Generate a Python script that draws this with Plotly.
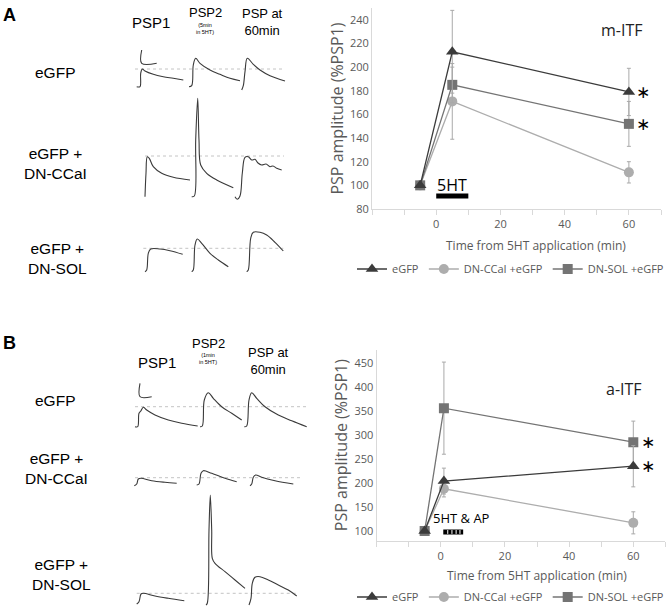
import plotly.graph_objects as go

W, H = 667, 606

# ---------------- chart data ----------------
TIME_A = [-5, 5, 60]
TIME_B = [-5, 1, 60]
SERIES = ["eGFP", "DN-CCaI +eGFP", "DN-SOL +eGFP"]

A_EGFP = [100, 213, 179]
A_EGFP_ERR = [0, 35, 20]
A_CCAI = [100, 171, 111]
A_CCAI_ERR = [0, 32, 9]
A_SOL = [100, 185, 152]
A_SOL_ERR = [0, 15, 19]

B_EGFP = [100, 204, 235]
B_EGFP_ERR = [0, 27, 43]
B_CCAI = [100, 188, 117]
B_CCAI_ERR = [0, 17, 23]
B_SOL = [100, 356, 285]
B_SOL_ERR = [0, 96, 44]

X_TICKS = [0, 20, 40, 60]

TA1_X = [136.7, 140, 140.7, 142.3, 145, 153.3, 163.3, 173.3, 183.3, None,
         189, 191.7, 193.3, 195.7, 200, 210, 220, 230, 240, None,
         241.7, 243.3, 245, 247.3, 253.3, 260, 270, 285]
TA1_Y = [86.7, 86.7, 73.3, 69, 71, 74.3, 76.7, 78.3, 80, None,
         86.7, 85.7, 65, 58.3, 63.3, 70, 74.3, 78.3, 80.7, None,
         90, 85.7, 71.7, 58.3, 64.3, 70, 75.7, 81]
TA2_X = [145, 146, 147.3, 149.3, 153.3, 161.7, 173.3, 190, None,
         191.7, 194.3, 195.7, 197.7, 199, 200.7, 206.7, 216.7, 233.3, None,
         235, 237.3, 240, 242.3, 245, 248.3, 251.7, 255, 258, 261.7, 266, 270, 273, 276.7, 281.7]
TA2_Y = [196.7, 173.3, 156.7, 158.3, 166.7, 173.3, 177.3, 180, None,
         196.7, 196, 140, 98.3, 140, 165, 173.3, 180, 187.7, None,
         196.7, 199.3, 196, 173.3, 157.3, 156.7, 160, 159.3, 163, 165, 164, 166.7, 166, 168.3, 170]
TA3_X = [145, 146.7, 148.3, 150.7, 160, 170, 182.7, None,
         191.7, 193.3, 195, 197.3, 201.7, 210, 218.3, 228.3, None,
         246.7, 248.3, 250.7, 253.3, 260, 266.7, 275, 283.3]
TA3_Y = [271.7, 270, 253.3, 249, 249, 250.7, 254.3, None,
         271.7, 270, 245, 239, 243.3, 253.3, 260, 266.7, None,
         271.7, 270, 238.3, 232.3, 232.3, 235, 242.3, 251]

TB1_X = [135, 137.7, 139, 141, 143.3, 146.7, 155, 168.3, 181.7, 197.7, None,
         200, 202.3, 204.3, 208.3, 213.3, 221.7, 231.7, 241.7, None,
         244.3, 246.7, 249, 251.7, 256.7, 265, 278.3, 291.7, 306.7]
TB1_Y = [426.7, 426.7, 413.3, 410.7, 407.3, 410, 415, 420, 423.3, 426, None,
         426.7, 426, 400, 392.7, 398.3, 406.7, 413.3, 420, None,
         426.7, 426, 400, 392.7, 398.3, 406.7, 415, 420.7, 426.7]
TB2_X = [134.3, 136.7, 138.3, 141, 151.7, 165, 176.7, None,
         196.7, 199, 201, 203.3, 211.7, 225, 236.7, None,
         250, 251.7, 253.3, 255.7, 261.7, 275, 293.3]
TB2_Y = [485.7, 484, 479, 478.3, 480.7, 482.3, 483.3, None,
         485, 484, 473.3, 470.7, 473.3, 478.3, 481.7, None,
         485.7, 484, 477.3, 475, 477.3, 480.7, 484]
TB3_X = [136.7, 139, 141, 143.3, 155, 168.3, 184.3, None,
         206, 207.3, 209, 210.3, 211.7, 212.3, 215, 225, 235, 245, None,
         249, 251, 252.3, 255, 260, 268.3, 278.3, 288.3, 296.7]
TB3_Y = [604, 601.7, 594, 593.3, 596, 598.3, 600.7, None,
         605, 603.3, 530, 495, 530, 558.3, 563.3, 571.7, 580, 588.3, None,
         605, 598.3, 583.3, 577.3, 576.7, 580, 585, 590, 596]

SCALE_A_X = [141.7, 141.7, 156.7]
SCALE_A_Y = [50, 63.3, 63.3]
SCALE_B_X = [140, 140, 151.7]
SCALE_B_Y = [383.3, 396.7, 396.7]

BASE_X = [[135, 285], [145, 284], [143.3, 283.3], [135, 306.7], [135, 303], [136.7, 298.3]]
BASE_Y = [69, 156, 248.3, 406.7, 477.7, 593.3]

# ---------------- figure ----------------
fig = go.Figure()

GRAY_TXT = "#595959"
C_EGFP, C_CCAI, C_SOL = "#3b3b3b", "#adadad", "#747474"
ERR_C = "#a9a9a9"
CHART_FONT = "Open Sans"
LEFT_FONT = "Liberation Sans"


def add_series(x, y, err, name, color, symbol, size, xa, ya, legend, rank):
    fig.add_trace(go.Scatter(
        x=x, y=y, name=name, mode="lines+markers",
        line=dict(color=color, width=1.3),
        marker=dict(symbol=symbol, color=color, size=size),
        error_y=dict(type="data", array=err, color=ERR_C, thickness=1, width=2),
        xaxis=xa, yaxis=ya, legend=legend, legendrank=rank, showlegend=True))


for (x, ys, xa, ya, lg) in [
    (TIME_A, [(A_CCAI, A_CCAI_ERR), (A_SOL, A_SOL_ERR), (A_EGFP, A_EGFP_ERR)], "x", "y", "legend"),
    (TIME_B, [(B_CCAI, B_CCAI_ERR), (B_SOL, B_SOL_ERR), (B_EGFP, B_EGFP_ERR)], "x2", "y2", "legend2"),
]:
    add_series(x, ys[0][0], ys[0][1], SERIES[1], C_CCAI, "circle", 10, xa, ya, lg, 2)
    add_series(x, ys[1][0], ys[1][1], SERIES[2], C_SOL, "square", 10, xa, ya, lg, 3)
    add_series(x, ys[2][0], ys[2][1], SERIES[0], C_EGFP, "triangle-up", 11, xa, ya, lg, 1)

# electrophysiology traces on a pixel overlay axis
for bx, by in zip(BASE_X, BASE_Y):
    fig.add_trace(go.Scatter(x=bx, y=[by, by], mode="lines",
                             line=dict(color="#c4c4c4", width=1, dash="dot"),
                             xaxis="x3", yaxis="y3", showlegend=False, hoverinfo="skip"))
for tx, ty in [(TA1_X, TA1_Y), (TA2_X, TA2_Y), (TA3_X, TA3_Y),
               (TB1_X, TB1_Y), (TB2_X, TB2_Y), (TB3_X, TB3_Y),
               (SCALE_A_X, SCALE_A_Y), (SCALE_B_X, SCALE_B_Y)]:
    fig.add_trace(go.Scatter(x=tx, y=ty, mode="lines", line=dict(color="#3a3a3a", width=1.1),
                             line_shape="spline", connectgaps=False,
                             xaxis="x3", yaxis="y3", showlegend=False, hoverinfo="skip"))


def px_x(p):
    return p / W


def px_y(p):
    return 1 - p / H


xcommon = dict(range=[-20, 70], tickvals=X_TICKS, ticks="outside", ticklen=5, tickcolor="#d9d9d9",
               minor=dict(ticks="outside", dtick=10, tick0=0, ticklen=5, tickcolor="#d9d9d9"),
               showline=True, linecolor="#d9d9d9", linewidth=1, showgrid=False, zeroline=False,
               automargin=False,
               tickfont=dict(family=CHART_FONT, size=11, color=GRAY_TXT))
ycommon = dict(showline=True, linecolor="#d9d9d9", linewidth=1, showgrid=False, zeroline=False,
               ticks="", automargin=False, tickfont=dict(family=CHART_FONT, size=11, color=GRAY_TXT),
               title=dict(text="PSP amplitude (%PSP1)", font=dict(family=CHART_FONT, size=16, color=GRAY_TXT),
                          standoff=2))

legend_common = dict(orientation="h", xanchor="left", yanchor="middle",
                     font=dict(family=CHART_FONT, size=11, color=GRAY_TXT), itemwidth=30,
                     traceorder="normal", bgcolor="rgba(0,0,0,0)", tracegroupgap=0)

fig.update_layout(
    width=W, height=H, autosize=False,
    margin=dict(l=0, r=0, t=0, b=0, pad=0, autoexpand=False),
    paper_bgcolor="white", plot_bgcolor="rgba(0,0,0,0)",
    xaxis=dict(domain=[px_x(372), px_x(661)], anchor="y", **xcommon),
    yaxis=dict(domain=[px_y(209), px_y(8)], anchor="x", range=[80, 250], tick0=80, dtick=20, **ycommon),
    xaxis2=dict(domain=[px_x(376.5), px_x(665.4)], anchor="y2", **xcommon),
    yaxis2=dict(domain=[px_y(540.6), px_y(349.6)], anchor="x2", range=[80, 478], tick0=100, dtick=50, **ycommon),
    xaxis3=dict(domain=[0, 1], range=[0, W], visible=False, anchor="y3"),
    yaxis3=dict(domain=[0, 1], range=[H, 0], visible=False, anchor="x3"),
    legend=dict(x=px_x(352), y=px_y(269), **legend_common),
    legend2=dict(x=px_x(352), y=px_y(597), **legend_common),
    showlegend=True,
)

ann = []


def txt(x, y, s, size, family=LEFT_FONT, color="black", bold=False, xref="x3", yref="y3", **kw):
    ann.append(dict(x=x, y=y, xref=xref, yref=yref, text=("<b>%s</b>" % s) if bold else s,
                    showarrow=False, font=dict(family=family, size=size, color=color), **kw))


# panel labels
txt(9, 15, "A", 18, bold=True)
txt(9, 343, "B", 18, bold=True)
# column headers
txt(151, 22, "PSP1", 15)
txt(205, 12, "PSP2", 13)
txt(205, 28, "(5min<br>in 5HT)", 5.5)
txt(262, 22, "PSP at<br>60min", 13)
txt(157, 362, "PSP1", 15)
txt(208, 343, "PSP2", 13)
txt(208, 358, "(1min<br>in 5HT)", 5.5)
txt(268, 361, "PSP at<br>60min", 13)
# row labels
txt(55, 72, "eGFP", 15.5)
txt(55, 163, "eGFP +<br>DN-CCaI", 15.5)
txt(57, 258, "eGFP +<br>DN-SOL", 15.5)
txt(55, 400, "eGFP", 15.5)
txt(56, 468, "eGFP +<br>DN-CCaI", 15.5)
txt(61, 574, "eGFP +<br>DN-SOL", 15.5)

# chart annotations
txt(5, 100, "5HT", 16, family=CHART_FONT, xref="x", yref="y")
txt(6.6, 127, "5HT &amp; AP", 13, family=CHART_FONT, xref="x2", yref="y2")
txt(622, 30, "m-ITF", 16, family=CHART_FONT, color="#222222")
txt(624, 389, "a-ITF", 16, family=CHART_FONT, color="#222222")
txt(536, 245, "Time from 5HT application (min)", 12, family=CHART_FONT, color=GRAY_TXT)
txt(537, 575, "Time from 5HT application (min)", 12, family=CHART_FONT, color=GRAY_TXT)
# significance asterisks next to the 60-min points
txt(64.3, A_EGFP[2], "∗", 17, family="DejaVu Sans", xref="x", yref="y")
txt(64.3, A_SOL[2], "∗", 17, family="DejaVu Sans", xref="x", yref="y")
txt(64.5, B_SOL[2], "∗", 17, family="DejaVu Sans", xref="x2", yref="y2")
txt(64.5, B_EGFP[2], "∗", 17, family="DejaVu Sans", xref="x2", yref="y2")
fig.update_layout(annotations=ann)

# 5HT application bars
fig.add_shape(type="line", xref="x", yref="y", x0=0, x1=10, y0=91, y1=91,
              line=dict(color="black", width=5))
fig.add_shape(type="line", xref="x2", yref="y2", x0=0.8, x1=7, y0=98, y1=98,
              line=dict(color="black", width=5))
for xs in [2.2, 3.5, 4.8, 6.0]:
    fig.add_shape(type="line", xref="x2", yref="y2", x0=xs, x1=xs, y0=94, y1=102,
                  line=dict(color="white", width=1))

fig.write_html("out.html", config={"displayModeBar": False},
               post_script="document.body.style.margin='0';document.body.style.overflow='hidden';")
